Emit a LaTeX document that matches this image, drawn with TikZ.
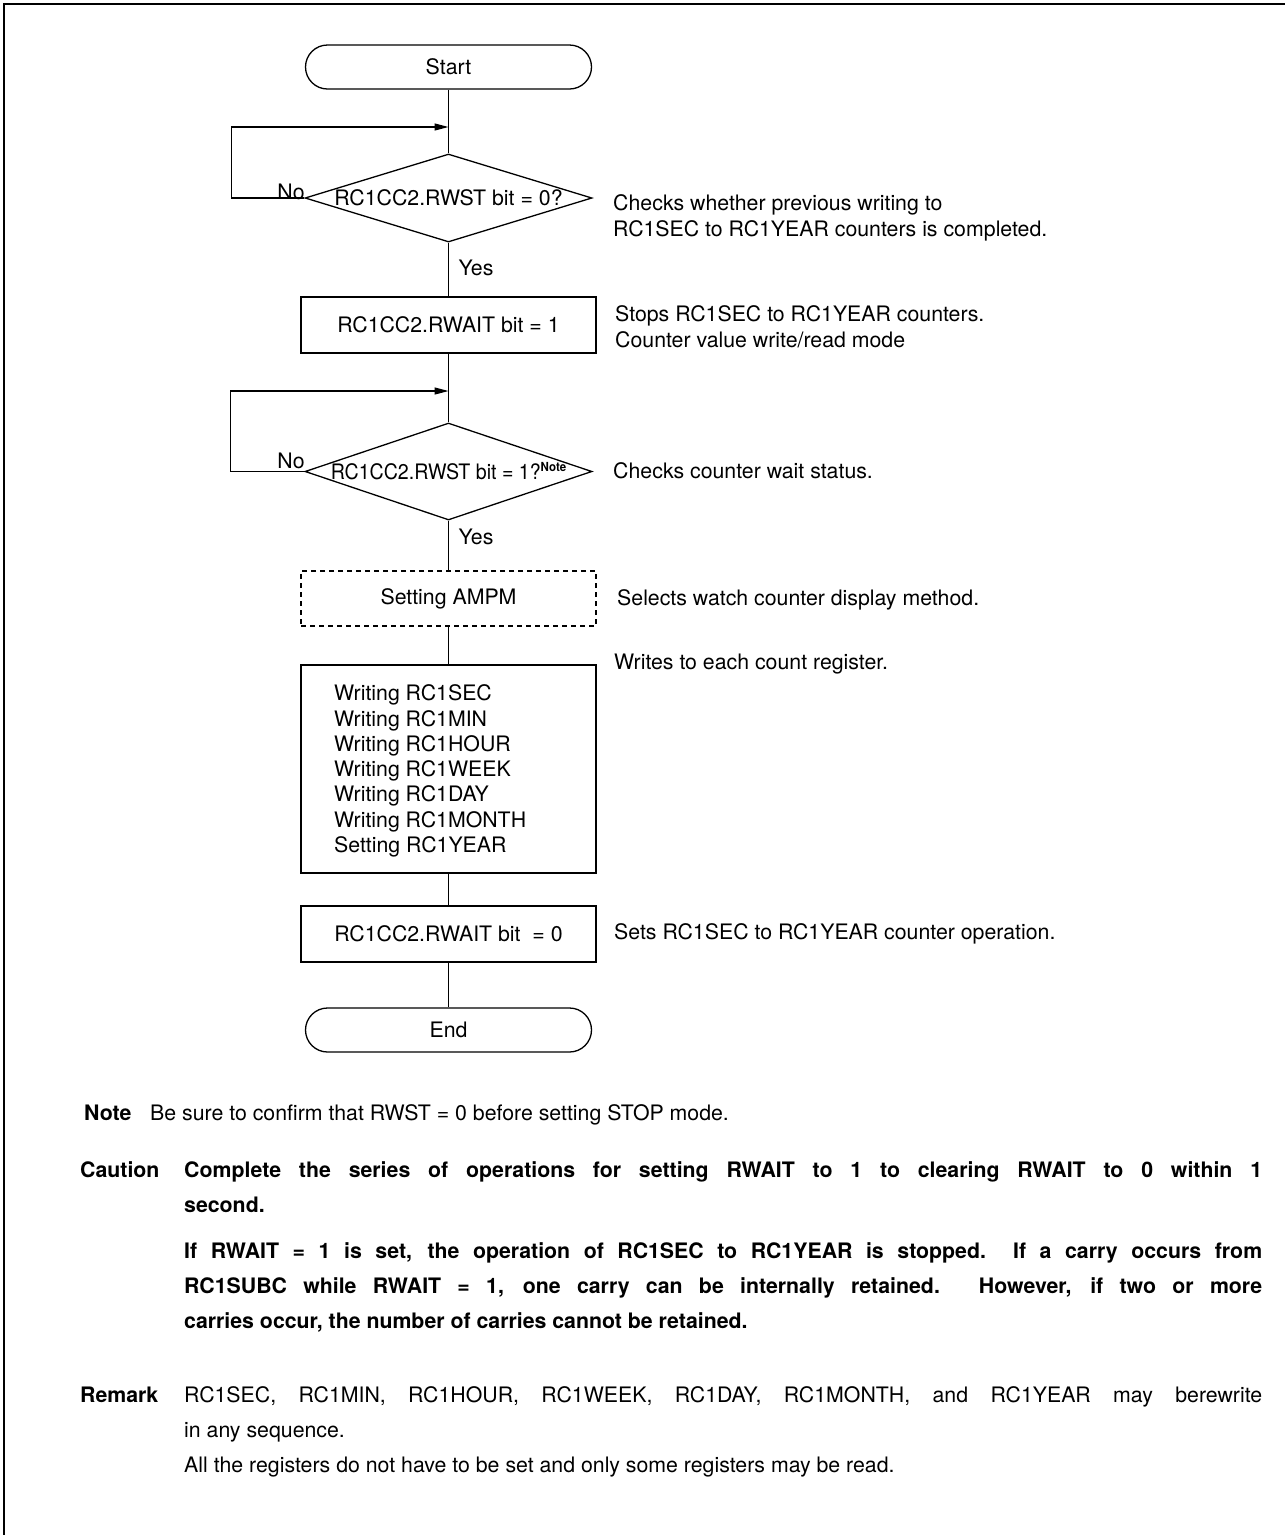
\documentclass[tikz,border=0pt]{standalone}
\usepackage{fontspec}
\setmainfont{TeX Gyre Heros}
\usetikzlibrary{arrows.meta,shapes.geometric}
\begin{document}
\begin{tikzpicture}[x=1pt,y=-1pt,
  every node/.style={font=\fontsize{21.3}{25.3}\selectfont, inner sep=0pt},
  bf/.style={font=\fontsize{21.3}{25.3}\selectfont\bfseries},
  ln/.style={line width=1.3pt},
  term/.style={draw, line width=1.3pt, rectangle, rounded corners=22pt, minimum width=286pt, minimum height=44pt},
  box/.style={draw, line width=1.3pt, rectangle, minimum width=295pt},
  dia/.style={draw, line width=1.3pt, diamond, minimum width=287pt},
  arr/.style={line width=1.3pt, -{Triangle[length=14pt,width=7pt]}},
  note/.style={anchor=west, align=left, font=\fontsize{21.3}{26}\selectfont},
  ]
\useasboundingbox (0,0) rectangle (1285,1535);
\draw[line width=2pt] (3.5,1535) -- (3.5,4) -- (1285,4);

% flowchart nodes
\node[term] (start) at (448.5,67) {Start};
\node[dia, minimum height=88pt] (d1) at (448.5,198) {};
\node (d1t) at (d1) {RC1CC2.RWST bit = 0?};
\node[box, minimum height=56pt] (r1) at (448.5,325) {RC1CC2.RWAIT bit = 1};
\node[dia, minimum height=97pt] (d2) at (448.5,471.5) {};
\node (d2t) at (d2) {\scalebox{0.92}[1]{RC1CC2.RWST bit = 1?\raisebox{8pt}{\fontsize{12.5}{13}\selectfont\bfseries Note}}};
\node[box, minimum height=55pt, dashed, dash pattern=on 5pt off 4pt] (ampm) at (448.5,598.5) {Setting AMPM};
\node[box, minimum height=208pt] (wr) at (448.5,769) {};
\node[anchor=west, align=left] (wrt) at (334,771) {Writing RC1SEC\\Writing RC1MIN\\Writing RC1HOUR\\Writing RC1WEEK\\Writing RC1DAY\\Writing RC1MONTH\\Setting RC1YEAR};
\node[box, minimum height=56pt] (r0) at (448.5,934) {RC1CC2.RWAIT bit\ \ = 0};
\node[term] (end) at (448.5,1030) {End};

% connectors
\coordinate (j1) at (448.5,127);
\coordinate (j2) at (448.5,391);
\draw[ln] (start) -- (d1);
\draw[arr] (d1.west) -- ++(-73,0) |- (j1);
\draw[ln] (d1) -- (r1);
\draw[ln] (r1) -- (d2);
\draw[arr] (d2.west) -- ++(-74,0) |- (j2);
\draw[ln] (d2) -- (ampm);
\draw[ln] (ampm) -- (wr);
\draw[ln] (wr) -- (r0);
\draw[ln] (r0) -- (end);

% branch labels
\node (no1) at (291,192) {No};
\node (yes1) at (476,268) {Yes};
\node (no2) at (291,461) {No};
\node (yes2) at (476,537) {Yes};

% annotations
\node[note] (c1) at (613,218) {Checks whether previous writing to\\RC1SEC to RC1YEAR counters is completed.};
\node[note] (c2) at (615,327) {Stops RC1SEC to RC1YEAR counters.\\Counter value write/read mode};
\node[note] (c3) at (613,471) {Checks counter wait status.};
\node[note] (c4) at (617,600) {Selects watch counter display method.};
\node[note] (c5) at (614,664) {Writes to each count register.};
\node[note] (c6) at (614,934) {Sets RC1SEC to RC1YEAR counter operation.};

% notes below
\node[bf, anchor=base west] (nl) at (84,1120) {Note};
\node[anchor=base west] (nt) at (150,1120) {Be sure to confirm that RWST = 0 before setting STOP mode.};

\node[bf, anchor=base west] (cl) at (80,1177) {Caution};
\node[bf, anchor=base west] (ct1) at (184,1177) {\makebox[1078pt][s]{Complete the series of operations for setting RWAIT to 1 to clearing RWAIT to 0 within 1}};
\node[bf, anchor=base west] (ct2) at (184,1212) {second.};
\node[bf, anchor=base west] (ct3) at (184,1258) {\makebox[1078pt][s]{If RWAIT = 1 is set, the operation of RC1SEC to RC1YEAR is stopped.\ \ If a carry occurs from}};
\node[bf, anchor=base west] (ct4) at (184,1293) {\makebox[1078pt][s]{RC1SUBC while RWAIT = 1, one carry can be internally retained. However, if two or more}};
\node[bf, anchor=base west] (ct5) at (184,1328) {carries occur, the number of carries cannot be retained.};

\node[bf, anchor=base west] (rl) at (80,1402) {Remark};
\node[anchor=base west] (rt1) at (184,1402) {\makebox[1078pt][s]{RC1SEC, RC1MIN, RC1HOUR, RC1WEEK, RC1DAY, RC1MONTH, and RC1YEAR may berewrite}};
\node[anchor=base west] (rt2) at (184,1437) {in any sequence.};
\node[anchor=base west] (rt3) at (184,1472) {All the registers do not have to be set and only some registers may be read.};
\end{tikzpicture}
\end{document}
